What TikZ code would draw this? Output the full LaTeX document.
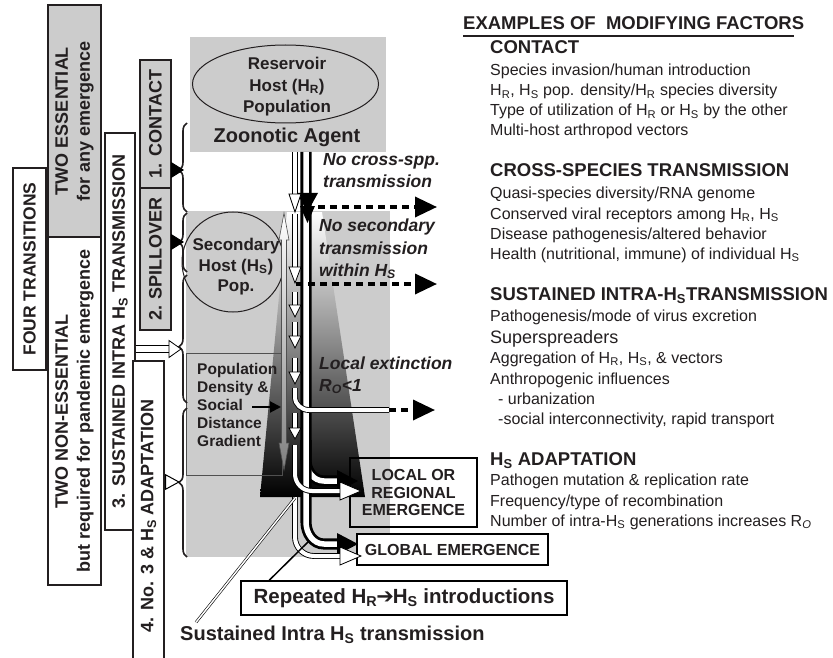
\documentclass[tikz,border=0pt]{standalone}
\usepackage{fontspec}
\setmainfont{Liberation Sans}
\newfontfamily\symfont{DejaVu Sans}
\usetikzlibrary{arrows.meta,shapes.geometric,decorations.pathreplacing}
\newcommand{\Hsub}[1]{H\textsubscript{#1}}
\begin{document}
\begin{tikzpicture}[x=1pt,y=-1pt,
  sidebox/.style={draw=textColor,line width=1.3pt,rotate=90,inner sep=0pt,align=center,text=textColor,font=\fontsize{18}{22}\selectfont\bfseries},
  factor/.style={anchor=base west,inner sep=0pt,text=textColor,font=\fontsize{16}{19}\selectfont},
  factorhead/.style={factor,font=\fontsize{18.5}{22}\selectfont\bfseries},
  note/.style={anchor=base west,inner sep=0pt,text=textColor,font=\fontsize{17.5}{21}\selectfont\bfseries\itshape},
  hosttext/.style={align=center,inner sep=0pt,text=textColor,font=\fontsize{17}{21.5}\selectfont\bfseries},
  emergebox/.style={draw=black,line width=2pt,inner sep=0pt,align=center,text=textColor,font=\fontsize{16}{17.5}\selectfont\bfseries},
  bracket/.style={decorate,decoration={brace,amplitude=8pt,aspect=#1},line width=1.6pt,draw=textColor},
  solidarrow/.style={line width=1pt,-{Triangle[length=13pt,width=16pt]}},
  hollow/.style={draw=black,line width=0.9pt,double=white,double distance=4pt},
  blackpair/.style={draw=black,line width=2.8pt,double=white,double distance=5.5pt},
  whitehead/.style={fill=white,draw=black,line width=0.8pt},
  dashedarrow/.style={line width=3.5pt,dash pattern=on 7pt off 5pt,-{Triangle[length=22pt,width=20pt]}}]
\definecolor{textColor}{RGB}{35,31,32}
\definecolor{fillGray}{RGB}{204,204,204}
\definecolor{lineGray}{RGB}{80,80,80}
\path[use as bounding box,fill=white] (0,0) rectangle (833,658);

% gray panels and gradient
\fill[fillGray] (190,37) rectangle (386,152);
\fill[fillGray] (186,211) rectangle (390,557);
\shade[top color=white,middle color=black!28,bottom color=black] (287,212) -- (322,212) -- (365,497) -- (260,497) -- cycle;

\node[draw=lineGray,line width=1pt,minimum width=96pt,minimum height=122pt,inner sep=0pt] (popbox) at (234,414) {};
\node[anchor=north west,align=left,inner sep=0pt,text=textColor,font=\fontsize{15.5}{18}\selectfont\bfseries] (poptext) at (197,363) {Population\\Density \&\\Social\\Distance\\Gradient};

\node[draw=textColor,line width=1pt,ellipse,minimum width=186pt,minimum height=78pt,inner sep=0pt] (reservoir) at (285.5,84) {};
\node[hosttext] (reservoirtxt) at (287,87) {Reservoir\\Host (\Hsub{R})\\Population};
\node[inner sep=0pt,text=textColor,font=\fontsize{20}{24}\selectfont\bfseries] (agent) at (287,137) {Zoonotic Agent};
\node[draw=textColor,line width=1pt,ellipse,minimum width=102pt,minimum height=100pt,inner sep=0pt] (secondary) at (233,262) {};
\node[hosttext,font=\fontsize{17}{20.5}\selectfont\bfseries] (secondarytxt) at (236,267) {Secondary\\Host (\Hsub{S})\\Pop.};

% gradient double arrow
\shadedraw[top color=white,bottom color=black!50,draw=lineGray,line width=0.6pt] (284,213) -- (289,240) -- (286.5,240) -- (286.5,443) -- (289,443) -- (284,470) -- (279,443) -- (281.5,443) -- (281.5,240) -- (279,240) -- cycle;
\coordinate (gradarrow) at (281,407);
\draw[line width=2pt,-{Triangle[length=11pt,width=11pt]}] (252,407) -- (gradarrow);

% emergence boxes
\node[emergebox,minimum width=127pt,minimum height=69pt] (local) at (413.5,492.5) {LOCAL OR\\REGIONAL\\EMERGENCE};
\node[emergebox,fill=white,minimum width=191pt,minimum height=31pt] (global) at (452.5,549.5) {GLOBAL EMERGENCE};
\node[emergebox,fill=white,line width=1.5pt,minimum width=326pt,minimum height=34pt,font=\fontsize{20.5}{24}\selectfont\bfseries] (repeated) at (404,598) {Repeated \Hsub{R}\kern-1pt{\symfont\mdseries\fontsize{21}{21}\selectfont ➔}\kern-1pt\Hsub{S} introductions};
\node[anchor=base west,inner sep=0pt,text=textColor,font=\fontsize{20}{24}\selectfont\bfseries] (sustained) at (180,640) {Sustained Intra \Hsub{S} transmission};

% repeated introductions (black)
\draw[blackpair] (306,440) -- (306,460) to[out=-90,in=180] (324,481) -- (338,481);
\fill (337,470) -- (358,481) -- (337,492) -- cycle;
\draw[blackpair] (306,152) -- (306,522) to[out=-90,in=180] (324,544) -- (338,544);
\fill (337,533) -- (358,544) -- (337,555) -- cycle;
\fill (297,193) -- (318,193) -- (307.5,212) -- cycle;
\fill (300,206) -- (315,206) -- (307.5,223) -- cycle;

% sustained transmission (white)
\draw[hollow] (295,152) -- (295,195);
\filldraw[whitehead] (289,194) -- (301,194) -- (295,212) -- cycle;
\draw[hollow] (295,214) -- (295,268);
\filldraw[whitehead] (289,267) -- (301,267) -- (295,283) -- cycle;
\draw[hollow] (295,292) -- (295,306);
\filldraw[whitehead] (289,305) -- (301,305) -- (295,317) -- cycle;
\draw[hollow] (295,322) -- (295,337);
\filldraw[whitehead] (289,336) -- (301,336) -- (295,348) -- cycle;
\draw[hollow] (295,358) -- (295,373);
\filldraw[whitehead] (289,372) -- (301,372) -- (295,384) -- cycle;
\draw[hollow] (295,388) -- (295,397) to[out=-90,in=180] (309,410) -- (389,410);
\draw[hollow] (295,413) -- (295,429);
\filldraw[whitehead] (289,428) -- (301,428) -- (295,439) -- cycle;
\draw[hollow] (295,445) -- (295,474) to[out=-90,in=180] (312,491) -- (341,491);
\filldraw[whitehead] (340,482) -- (361,491) -- (340,500) -- cycle;
\draw[hollow] (295,497) -- (295,537) to[out=-90,in=180] (314,556) -- (341,556);
\filldraw[whitehead] (340,547) -- (361,556) -- (340,565) -- cycle;

% no transmission
\draw[dashedarrow] (318,207) -- (437,207);
\draw[dashedarrow] (296,284) -- (437,284);
\draw[dashedarrow] (389,410) -- (435,410);
\node[note] (nocross1) at (323,166) {No cross-spp.};
\node[note] (nocross2) at (323,188) {transmission};
\node[note] (nosec1) at (319,231) {No secondary};
\node[note] (nosec2) at (319,254) {transmission};
\node[note] (nosec3) at (319,276) {within \Hsub{S}};
\node[note] (extinct1) at (319,369) {Local extinction};
\node[note] (extinct2) at (319,391) {R\textsubscript{O}<1};

\coordinate (repfoot) at ([xshift=29pt]repeated.north west);
\coordinate (blackfork) at (309,541);
\draw[line width=1.5pt] (repfoot) -- (blackfork);
\coordinate (susfoot) at ([shift={(16pt,3pt)}]sustained.north west);
\coordinate (whitefork) at (295,498);
\draw[draw=black,line width=0.6pt,double=white,double distance=1.5pt] (susfoot) -- (whitefork);

% transitions
\node[sidebox,fill=white,line width=2pt,minimum width=202pt,minimum height=33pt,font=\fontsize{17.5}{21}\selectfont\bfseries] (four) at (29.5,269) {FOUR TRANSITIONS};
\node[sidebox,fill=fillGray,minimum width=232pt,minimum height=53pt] (essential) at (74.5,121) {TWO ESSENTIAL\\for any emergence};
\node[sidebox,fill=white,minimum width=348pt,minimum height=53pt] (nonessential) at (74.5,411) {TWO NON-ESSENTIAL\\but required for pandemic emergence};
\node[sidebox,fill=white,minimum width=397pt,minimum height=30pt] (sust3) at (120,331.5) {3. SUSTAINED INTRA \Hsub{S} TRANSMISSION};
\node[sidebox,fill=white,minimum width=310pt,minimum height=31pt] (adapt4) at (148.5,516) {4. No. 3 \& \Hsub{S} ADAPTATION};
\node[sidebox,fill=fillGray,minimum width=128pt,minimum height=31pt] (contact1) at (155.5,124) {1. CONTACT};
\node[sidebox,fill=fillGray,minimum width=142pt,minimum height=31pt] (spill2) at (155.5,259) {2. SPILLOVER};

\draw[bracket=0.47] (187,212) -- (187,123);
\draw[bracket=0.5] (187,272) -- (187,213);
\draw[bracket=0.44] (187,403) -- (187,275);
\draw[bracket=0.5] (187,557) -- (187,408);

\coordinate (tip1) at (184,170);
\coordinate (tip2) at (184,242);
\coordinate (tip3) at (181,349);
\coordinate (tip4) at (180,482);
\draw[solidarrow] (contact1.south |- tip1) -- (tip1);
\draw[solidarrow] (spill2.south |- tip2) -- (tip2);
\draw[draw=black,line width=1pt,double=white,double distance=6pt] (sust3.south |- tip3) -- (170,349);
\filldraw[whitehead] (169,340.5) -- (tip3) -- (169,357.5) -- cycle;
\draw[line width=1pt,-{Triangle[length=15pt,width=16pt,fill=white]}] (adapt4.south |- tip4) -- (tip4);

% modifying factors
\node[factorhead] (hdr) at (463,30) {EXAMPLES OF\ \ MODIFYING FACTORS};
\draw[line width=1.5pt,textColor] ([yshift=-6pt]hdr.base west) -- ++(331,0);
\node[factorhead] (fcontact) at (490,54) {CONTACT};
\node[factor] (fc1) at (490,76) {Species invasion/human introduction};
\node[factor] (fc2) at (490,96) {\Hsub{R}, \Hsub{S} pop. density/\Hsub{R} species diversity};
\node[factor] (fc3) at (490,116) {Type of utilization of \Hsub{R} or \Hsub{S} by the other};
\node[factor] (fc4) at (490,136) {Multi-host arthropod vectors};
\node[factorhead] (fcross) at (490,177) {CROSS-SPECIES TRANSMISSION};
\node[factor] (fx1) at (490,199) {Quasi-species diversity/RNA genome};
\node[factor] (fx2) at (490,219) {Conserved viral receptors among \Hsub{R}, \Hsub{S}};
\node[factor] (fx3) at (490,239) {Disease pathogenesis/altered behavior};
\node[factor] (fx4) at (490,259) {Health (nutritional, immune) of individual \Hsub{S}};
\node[factorhead] (fsust) at (490,300) {SUSTAINED INTRA-\Hsub{S}TRANSMISSION};
\node[factor] (fs1) at (490,321) {Pathogenesis/mode of virus excretion};
\node[factor,font=\fontsize{18}{21}\selectfont] (fs2) at (490,343) {Superspreaders};
\node[factor] (fs3) at (490,363) {Aggregation of \Hsub{R}, \Hsub{S}, \& vectors};
\node[factor] (fs4) at (490,384) {Anthropogenic influences};
\node[factor] (fs5) at (498,404) {- urbanization};
\node[factor] (fs6) at (498,424) {-social interconnectivity, rapid transport};
\node[factorhead] (fadapt) at (490,465) {\Hsub{S} ADAPTATION};
\node[factor] (fa1) at (490,485) {Pathogen mutation \& replication rate};
\node[factor] (fa2) at (490,506) {Frequency/type of recombination};
\node[factor] (fa3) at (490,526) {Number of intra-\Hsub{S} generations increases R\textsubscript{\itshape O}};
\end{tikzpicture}
\end{document}
